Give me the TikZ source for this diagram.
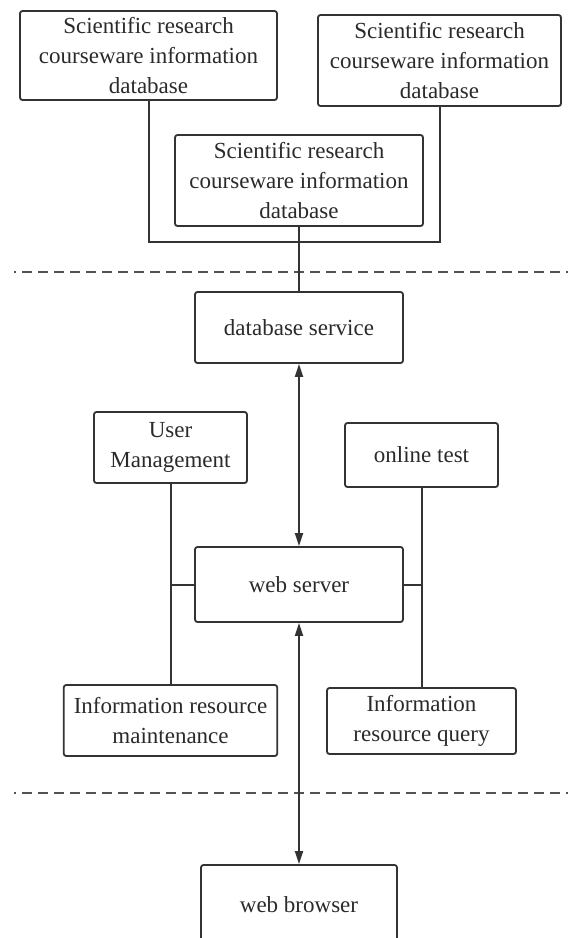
\documentclass[tikz,border=0pt]{standalone}
\usepackage{fontspec}
\setmainfont{Liberation Serif}
\usetikzlibrary{arrows.meta}
\definecolor{linec}{HTML}{333333}
\definecolor{textc}{HTML}{2A2A2A}
\begin{document}
\begin{tikzpicture}[x=1pt, y=-1pt,
  box/.style={draw=linec, line width=1.8pt, rounded corners=2.5pt,
    align=center, inner sep=0pt, text=textc,
    font=\fontsize{23}{30}\selectfont},
  link/.style={draw=linec, line width=2pt},
  twoway/.style={link, {Triangle[length=13pt,width=8pt]}-{Triangle[length=13pt,width=8pt]}},
  divider/.style={draw=linec!85, line width=1.8pt, dash pattern=on 10pt off 6pt, dash phase=8pt}]
  \useasboundingbox (0,0) rectangle (568,938);
  \clip (0,0) rectangle (568,938);

  % data layer
  \node[box, minimum width=257pt, minimum height=89pt] (dbA) at (148.5,55.5)
    {Scientific research\\courseware information\\database};
  \node[box, minimum width=243pt, minimum height=91pt] (dbB) at (439.5,60.5)
    {Scientific research\\courseware information\\database};
  \node[box, minimum width=248pt, minimum height=91pt] (dbC) at (299,180.5)
    {Scientific research\\courseware information\\database};
  \coordinate (join) at (299,242);

  % service layer
  \node[box, minimum width=208pt, minimum height=71pt] (dbs) at (299,327.5) {database service};
  \node[box, minimum width=153pt, minimum height=71pt] (um) at (170.5,447.5) {User\\Management};
  \node[box, minimum width=153pt, minimum height=64pt] (ot) at (421.5,455) {online test};
  \node[box, minimum width=208pt, minimum height=75pt] (ws) at (299,584.5) {web server};
  \node[box, minimum width=213.5pt, minimum height=71pt] (irm) at (170.5,720.5)
    {Information resource\\maintenance};
  \node[box, minimum width=189pt, minimum height=66pt] (irq) at (421.5,721)
    {Information\\resource query};

  % client layer
  \node[box, minimum width=196pt, minimum height=80pt] (wb) at (299,905) {web browser};

  % layer dividers
  \coordinate (d1l) at (14,272);  \coordinate (d1r) at (568,272);
  \coordinate (d2l) at (14,793);  \coordinate (d2r) at (568,793);
  \draw[divider] (d1l) -- (d1r);
  \draw[divider] (d2l) -- (d2r);

  % connectors
  \draw[link] (dbA.south) |- (join) -| (dbB.south);
  \draw[link] (dbC.south) -- (dbs.north);
  \draw[twoway] (dbs.south) -- (ws.north);
  \draw[twoway] (ws.south) -- (wb.north);
  \draw[link] (um.south) -- (irm.north);
  \draw[link] (ws.west) -- (ws.west -| um.south);
  \draw[link] (ot.south) -- (irq.north);
  \draw[link] (ws.east) -- (ws.east -| ot.south);
\end{tikzpicture}
\end{document}
